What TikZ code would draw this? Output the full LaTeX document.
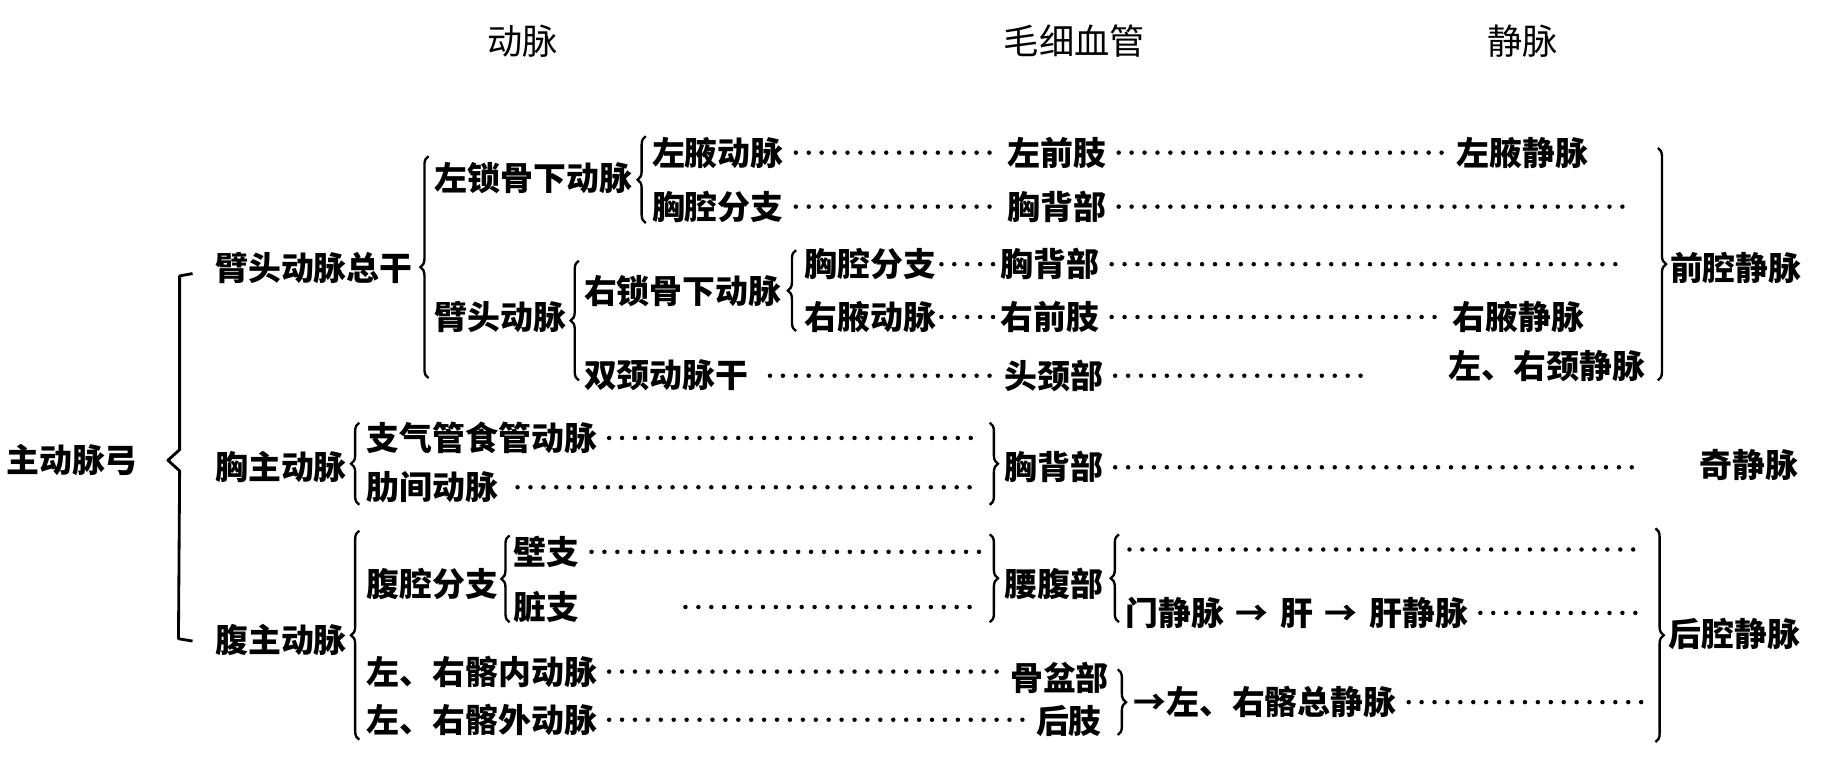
\documentclass[tikz,border=0pt]{standalone}
\usepackage{fontspec}
\newfontfamily\cjk{Noto Sans CJK SC}
\usetikzlibrary{decorations.pathreplacing}
\begin{document}
\begin{tikzpicture}[x=0.5pt,y=-0.5pt,
  lbl/.style={anchor=west,inner sep=0pt,font=\cjk\bfseries\fontsize{14pt}{14pt}\selectfont},
  hdr/.style={inner sep=0pt,font=\cjk\fontsize{15pt}{15pt}\selectfont},
  dots/.style={line width=1.9pt,line cap=round,dash pattern=on 0pt off 5.5pt,shorten <=5pt,shorten >=5pt},
  brc/.style={decorate,decoration={brace,amplitude=3.5pt},line width=1pt},
  bracket/.style={line width=1.2pt,line join=round}]
\useasboundingbox[fill=white] (0,0) rectangle (1568,664);

% headers
\node[hdr] (hA) at (445,35) {动脉};
\node[hdr] (hC) at (915,35) {毛细血管};
\node[hdr] (hV) at (1297,35) {静脉};

% root
\node[lbl] (aorta) at (5,392) {主动脉弓};
\draw[bracket] (164,233) -- (153,235) -- (153,383) -- (143,392) -- (153,401) -- (152,544) -- (164,546);

\node[lbl] (bct) at (183,228) {臂头动脉总干};
\node[lbl] (tho) at (183,398) {胸主动脉};
\node[lbl] (abd) at (183,545) {腹主动脉};

% brachiocephalic trunk
\draw[brc] (365,322) -- (365,133);
\node[lbl] (lsub) at (370,152) {左锁骨下动脉};
\node[lbl] (bca) at (370,270) {臂头动脉};
\draw[brc] (550,190) -- (550,116);
\node[lbl] (lax) at (555,130) {左腋动脉};
\node[lbl] (lth) at (555,176) {胸腔分支};
\node[lbl] (lfl) at (858,130) {左前肢};
\node[lbl] (lbk) at (858,176) {胸背部};
\node[lbl] (lav) at (1240,130) {左腋静脉};

\draw[brc] (493,324) -- (493,222);
\node[lbl] (rsub) at (497,248) {右锁骨下动脉};
\node[lbl] (cca) at (497,320) {双颈动脉干};
\draw[brc] (678,282) -- (678,213);
\node[lbl] (rth) at (685,225) {胸腔分支};
\node[lbl] (rax) at (685,270) {右腋动脉};
\node[lbl] (rbk) at (852,225) {胸背部};
\node[lbl] (rfl) at (852,270) {右前肢};
\node[lbl] (rav) at (1237,270) {右腋静脉};
\node[lbl] (hn) at (855,320) {头颈部};
\node[lbl] (jv) at (1233,312) {左、右颈静脉};

\coordinate (pa) at (1412,126);
\coordinate (pb) at (1412,324);
\draw[brc] (pa) -- (pb);
\node[lbl] (svc) at (1422,228) {前腔静脉};

\draw[dots] (lax.east) -- (lfl.west);
\draw[dots] (lfl.east) -- (lav.west);
\draw[dots] (lth.east) -- (lbk.west);
\draw[dots,shorten >=11pt] (lbk.east) -- (lbk.east -| pa);
\draw[dots,shorten <=2pt,shorten >=2pt] (rth.east) -- (rbk.west);
\draw[dots,shorten >=13pt] (rbk.east) -- (rbk.east -| pa);
\draw[dots,shorten <=2pt,shorten >=2pt] (rax.east) -- (rfl.west);
\draw[dots] (rfl.east) -- (rav.west);
\draw[dots,shorten <=9pt] (cca.east) -- (hn.west);
\draw[dots,shorten >=34pt] (hn.east) -- (hn.east -| jv.west);

% thoracic aorta
\draw[brc] (306,430) -- (306,360);
\node[lbl] (bro) at (312,373) {支气管食管动脉};
\node[lbl] (ica) at (312,415) {肋间动脉};
\coordinate (qa) at (843,360);
\coordinate (qb) at (843,430);
\draw[brc] (qa) -- (qb);
\node[lbl] (tbk) at (855,398) {胸背部};
\node[lbl] (azy) at (1447,396) {奇静脉};
\draw[dots,shorten >=4pt] (bro.east) -- (bro.east -| qa);
\draw[dots,shorten <=8pt,shorten >=4pt] (ica.east) -- (ica.east -| qa);
\draw[dots,shorten >=26pt] (tbk.east) -- (tbk.east -| azy.west);

% abdominal aorta
\draw[brc] (306,630) -- (306,452);
\node[lbl] (cel) at (312,497) {腹腔分支};
\draw[brc] (434,530) -- (434,456);
\node[lbl] (par) at (437,470) {壁支};
\node[lbl] (vis) at (437,517) {脏支};
\coordinate (va) at (843,455);
\coordinate (vb) at (843,530);
\draw[brc] (va) -- (vb);
\node[lbl] (lum) at (855,497) {腰腹部};
\coordinate (wa) at (953,530);
\coordinate (wb) at (953,455);
\draw[brc] (wa) -- (wb);
\coordinate (wt) at (962,468);
\node[lbl] (por) at (958,522) {门静脉\hspace{5pt}→\hspace{5pt}肝\hspace{5pt}→\hspace{5pt}肝静脉};

\coordinate (ha) at (1410,450);
\coordinate (hb) at (1410,632);
\draw[brc] (ha) -- (hb);
\node[lbl] (ivc) at (1421,540) {后腔静脉};

\draw[dots,shorten >=4pt] (par.east) -- (par.east -| va);
\draw[dots,shorten <=45pt,shorten >=4pt] (vis.east) -- (vis.east -| va);
\draw[dots,shorten <=0pt,shorten >=7pt] (wt) -- (wt -| ha);
\draw[dots,shorten >=5pt] (por.east) -- (por.east -| ha);

\node[lbl] (iil) at (312,572) {左、右髂内动脉};
\node[lbl] (pel) at (860,577) {骨盆部};
\node[lbl] (eil) at (312,613) {左、右髂外动脉};
\node[lbl] (hl) at (882,614) {后肢};
\draw[dots,shorten >=3pt] (iil.east) -- (iil.east -| pel.west);
\draw[dots] (eil.east) -- (eil.east -| hl.west);
\coordinate (xa) at (952,570);
\coordinate (xb) at (952,626);
\draw[brc] (xa) -- (xb);
\node[lbl] (cil) at (965,598) {→左、右髂总静脉};
\draw[dots,shorten >=3pt] (cil.east) -- (cil.east -| ha);
\end{tikzpicture}
\end{document}
